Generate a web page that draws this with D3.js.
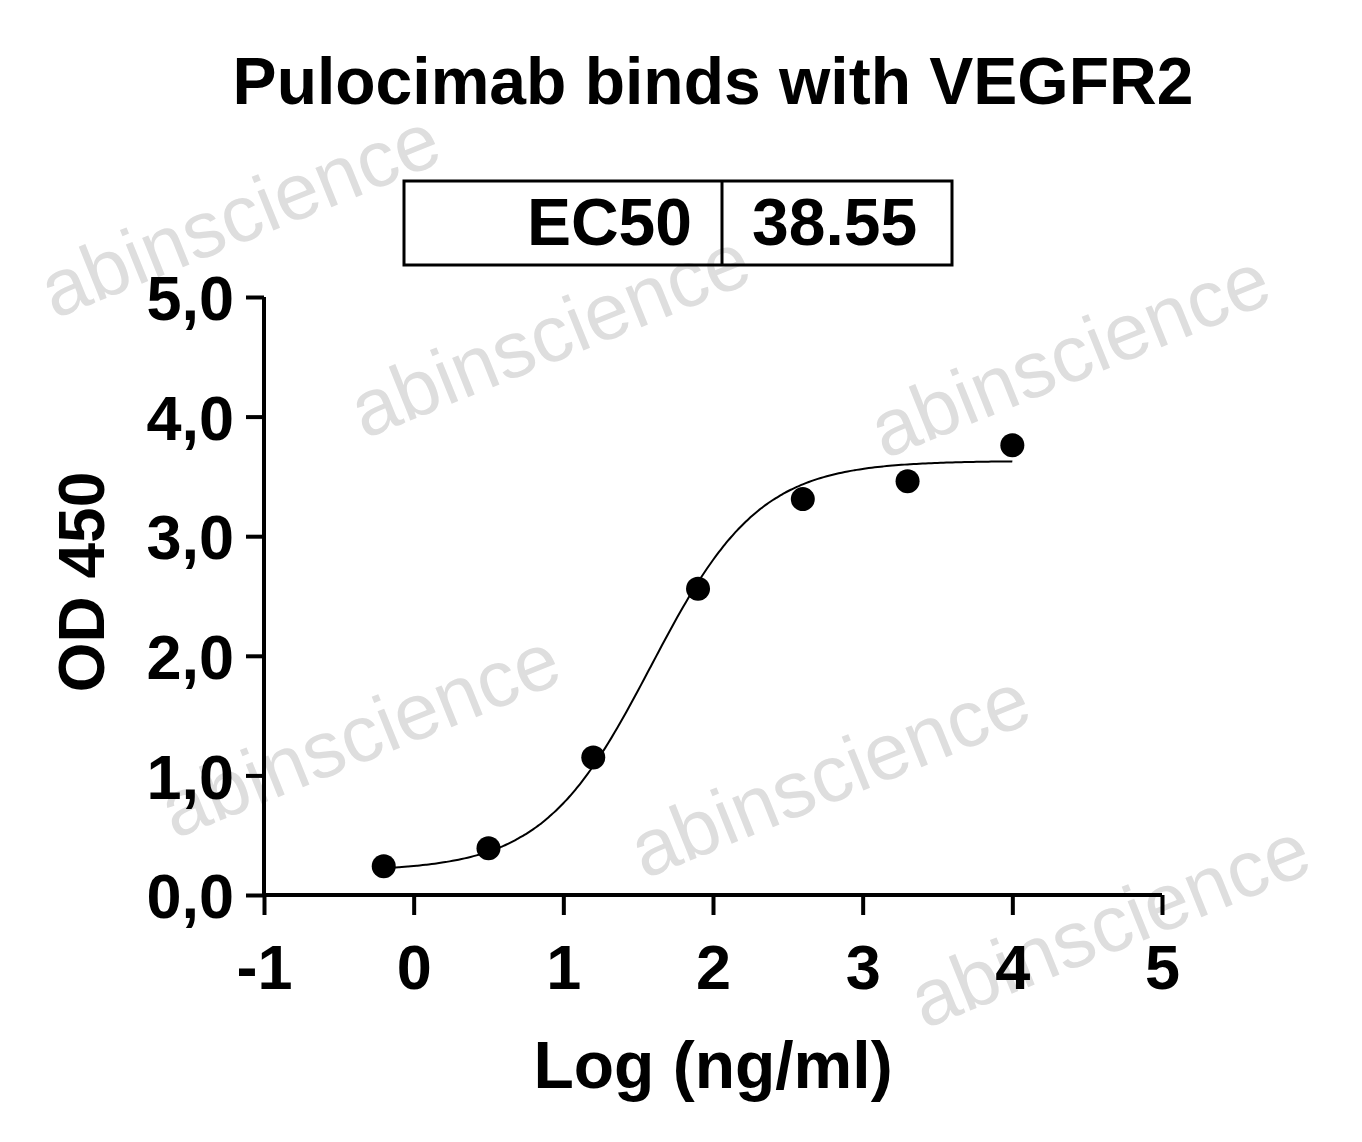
<!DOCTYPE html>
<html><head><meta charset="utf-8">
<script src="https://cdn.jsdelivr.net/npm/d3@7"></script>
<style>body{margin:0;background:#fff}</style>
</head><body>
<script>
// data
var logConc = [-0.2, 0.5, 1.2, 1.9, 2.6, 3.3, 4.0];
var od450 = [0.24, 0.39, 1.15, 2.56, 3.31, 3.46, 3.76];
var xTicks = [-1, 0, 1, 2, 3, 4, 5];
var yTicks = [0, 1, 2, 3, 4, 5];
var ec50 = 38.55;
// fitted 4PL curve params
var fitBottom = 0.2, fitTop = 3.63, fitHill = 1.2;

var W = 1362, H = 1142;
var svg = d3.select('body').append('svg').attr('width', W).attr('height', H)
  .style('font-family', 'Liberation Sans, Arial, sans-serif');

var x = d3.scaleLinear().domain([-1, 5]).range([264, 1162]);
var y = d3.scaleLinear().domain([0, 5]).range([895, 297]);

//watermarks (kept inside the page)
var marks = [[560,360],[1080,380],[370,760],[840,800],[1120,950],[250,240]];
marks.forEach(function(m){
  svg.append('text').attr('transform','translate('+m[0]+','+m[1]+') rotate(-22)')
    .attr('text-anchor','middle').attr('font-size',80).attr('fill','#dedede')
    .text('abinscience');
});

svg.append('text').attr('x', 713).attr('y', 104).attr('text-anchor','middle')
  .attr('font-size', 66).attr('font-weight','bold').text('Pulocimab binds with VEGFR2');

// EC50 box
svg.append('rect').attr('x',404).attr('y',181).attr('width',548).attr('height',84)
  .attr('fill','none').attr('stroke','#000').attr('stroke-width',3);
svg.append('line').attr('x1',722).attr('x2',722).attr('y1',181).attr('y2',265)
  .attr('stroke','#000').attr('stroke-width',3);
svg.append('text').attr('x',692).attr('y',245).attr('text-anchor','end')
  .attr('font-size',66).attr('font-weight','bold').text('EC50');
svg.append('text').attr('x',752).attr('y',245)
  .attr('font-size',66).attr('font-weight','bold').text(ec50.toFixed(2));

var xAxis = svg.append('g').attr('transform','translate(0,895)')
  .call(d3.axisBottom(x).tickValues(xTicks).tickSize(20).tickFormat(function(d){return String(d);}));
var yAxis = svg.append('g').attr('transform','translate(264,0)')
  .call(d3.axisLeft(y).tickValues(yTicks).tickSize(18).tickFormat(function(d){return d + ',0';}));
[xAxis, yAxis].forEach(function(a){
  a.selectAll('path,line').attr('stroke','#000').attr('stroke-width',4);
  a.selectAll('text').attr('font-size',63).attr('font-weight','bold')
    .attr('font-family','Liberation Sans, Arial, sans-serif').attr('fill','#000');
});
xAxis.select('.domain').attr('d','M264,0H1162');
yAxis.select('.domain').attr('d','M0,895V297');
xAxis.selectAll('text').attr('y',94).attr('dy',0);
yAxis.selectAll('text').attr('dy','0.36em').attr('x',-30);

svg.append('text').attr('x',713).attr('y',1088).attr('text-anchor','middle')
  .attr('font-size',66).attr('font-weight','bold').text('Log (ng/ml)');
svg.append('text').attr('transform','translate(104,582) rotate(-90)').attr('text-anchor','middle')
  .attr('font-size',64).attr('font-weight','bold').text('OD 450');

var lx = Math.log10(ec50);
var curve = d3.range(-0.2, 4.001, 0.02).map(function(v){
  return [v, fitBottom + (fitTop - fitBottom) / (1 + Math.pow(10, (lx - v) * fitHill))];
});
svg.append('path').datum(curve)
  .attr('d', d3.line().x(function(d){return x(d[0]);}).y(function(d){return y(d[1]);}).curve(d3.curveBasis))
  .attr('fill','none').attr('stroke','#000').attr('stroke-width',2);

svg.selectAll('circle.pt').data(logConc).enter().append('circle')
  .attr('cx', function(d){return x(d);})
  .attr('cy', function(d,i){return y(od450[i]);})
  .attr('r', 12).attr('fill','#000');
</script>
</body></html>
